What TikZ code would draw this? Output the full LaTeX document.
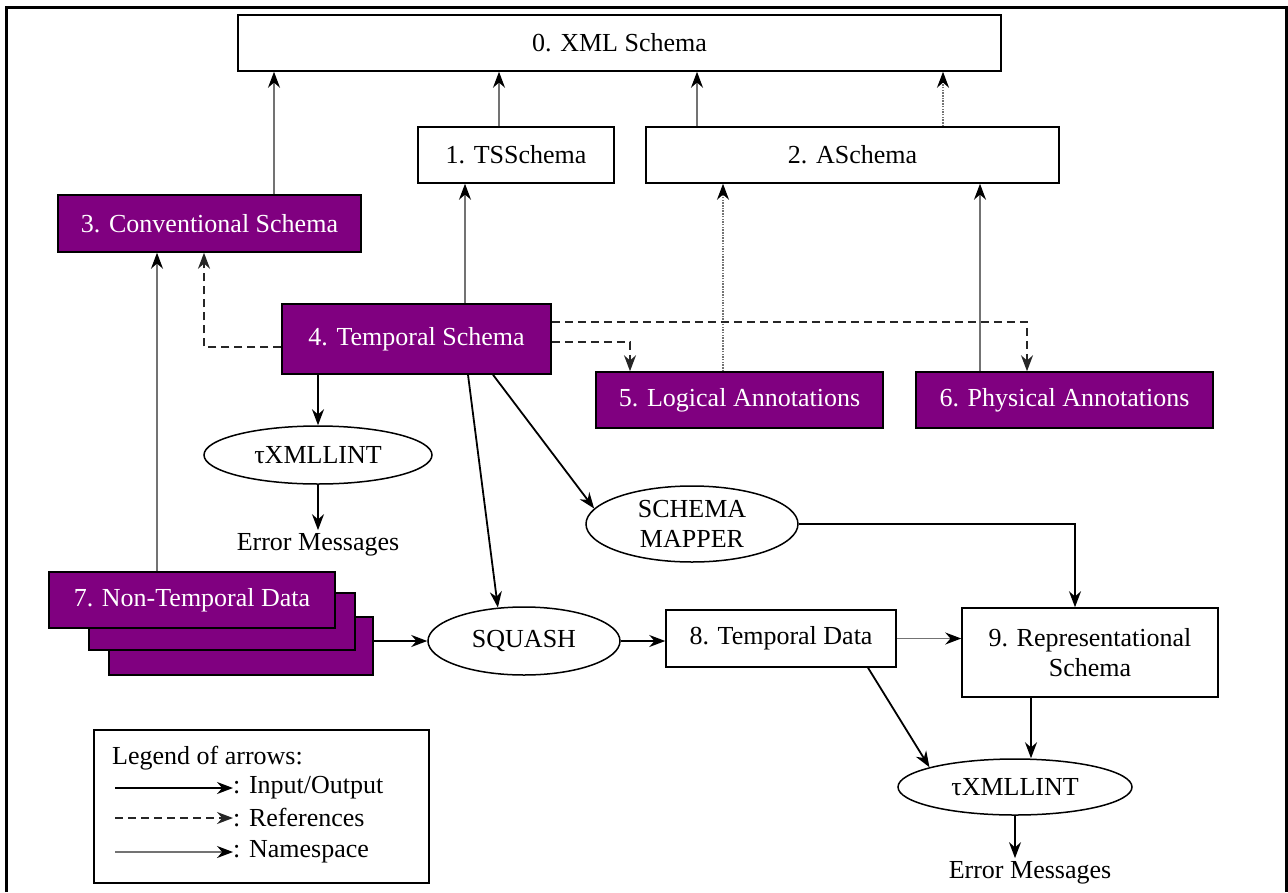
\documentclass[tikz,border=0pt]{standalone}
\usepackage{fontspec}
\setmainfont{Liberation Serif}
\usetikzlibrary{arrows.meta,shapes.geometric}
\definecolor{schemapurple}{RGB}{128,0,128}
\newcommand{\diagfont}{\fontsize{26}{30}\selectfont}

\begin{document}
\begin{tikzpicture}[x=1pt,y=-1pt,font=\diagfont,
    box/.style={draw=black,line width=1.5pt,fill=white,inner sep=0pt,align=center},
    pbox/.style={box,fill=schemapurple,text=white},
    oval/.style={draw=black,ellipse,line width=1.5pt,fill=white,inner sep=0pt,align=center},
    iolink/.style={-{Stealth[length=16pt,width=12pt]},line width=1.8pt},
    reflink/.style={iolink,dash pattern=on 8pt off 5pt,draw=black!85},
    nslink/.style={-{Stealth[length=16pt,width=12pt,black]},line width=1.3pt,draw=black!55},
    dotlink/.style={nslink,dash pattern=on 1.5pt off 1.2pt}]
    \useasboundingbox (0,0) rectangle (1288,892);
    \draw[line width=3pt] (6,892) -- (6,7) -- (1286,7) -- (1286,892);

    \node[box,minimum width=763pt,minimum height=56pt] (xml) at (619.5,43) {0. XML Schema};
    \node[box,minimum width=196pt,minimum height=56pt] (ts) at (516,155) {1. TSSchema};
    \node[box,minimum width=413pt,minimum height=56pt] (aschema) at (852.5,155) {2. ASchema};
    \node[pbox,minimum width=303pt,minimum height=57pt] (conv) at (209.5,223.5) {3. Conventional Schema};
    \node[pbox,minimum width=269pt,minimum height=70pt] (temporal) at (416.5,339) {4. Temporal Schema};
    \node[pbox,minimum width=287pt,minimum height=56pt] (logical) at (739.5,400) {5. Logical Annotations};
    \node[pbox,minimum width=297pt,minimum height=56pt] (physical) at (1064.5,400) {6. Physical Annotations};

    \foreach \nm/\cx/\cy/\w/\h in {nt3/241/646/264/58, nt2/222/621.5/266/57}
      \node[pbox,minimum width=\w pt,minimum height=\h pt] (\nm) at (\cx,\cy) {};
    \node[pbox,minimum width=286pt,minimum height=56pt] (nontemp) at (192,600) {7. Non-Temporal Data};

    \node[box,minimum width=230pt,minimum height=57pt] (tdata) at (781,638.5) {8. Temporal Data};
    \node[box,minimum width=256pt,minimum height=89pt] (repr) at (1090,652.5) {9. Representational\\Schema};

    \node[oval,minimum width=228pt,minimum height=58pt] (lint1) at (318,455) {τXMLLINT};
    \node (err1) at (318,545) {Error Messages};
    \node[oval,minimum width=212pt,minimum height=76pt] (mapper) at (692,524) {SCHEMA\\MAPPER};
    \node[oval,minimum width=192pt,minimum height=68pt] (squash) at (524,641) {SQUASH};
    \node[oval,minimum width=234pt,minimum height=56pt] (lint2) at (1015,787) {τXMLLINT};
    \node (err2) at (1030,873) {Error Messages};

    \node[box,minimum width=335pt,minimum height=153pt] (legend) at (261.5,806.5) {};
    \node[anchor=west,inner sep=0pt] (legtitle) at (112,758) {Legend of arrows:};
    \coordinate (lio) at (115,788);
    \node[anchor=west,inner sep=0pt] (lgio) at (233,788) {: Input/Output};
    \coordinate (lref) at (115,818);
    \node[anchor=west,inner sep=0pt] (lgref) at (233,818) {: References};
    \coordinate (lns) at (115,852);
    \node[anchor=west,inner sep=0pt] (lgns) at (233,852) {: Namespace};
    \draw[iolink] (lio) -- (lgio.west);
    \draw[reflink] (lref) -- (lgref.west);
    \draw[nslink] (lns) -- (lgns.west);

    \draw[nslink] ([xshift=64.5pt]conv.north) -- ([xshift=64.5pt]conv.north |- xml.south);
    \draw[nslink] ([xshift=-17pt]ts.north) -- ([xshift=-17pt]ts.north |- xml.south);
    \draw[nslink] ([xshift=-155.5pt]aschema.north) -- ([xshift=-155.5pt]aschema.north |- xml.south);
    \draw[dotlink] ([xshift=90.5pt]aschema.north) -- ([xshift=90.5pt]aschema.north |- xml.south);
    \draw[nslink] ([xshift=48.5pt]temporal.north) -- ([xshift=48.5pt]temporal.north |- ts.south);
    \draw[dotlink] ([xshift=-16.5pt]logical.north) -- ([xshift=-16.5pt]logical.north |- aschema.south);
    \draw[nslink] ([xshift=-84.5pt]physical.north) -- ([xshift=-84.5pt]physical.north |- aschema.south);
    \draw[nslink] ([xshift=-35pt]nontemp.north) -- ([xshift=-35pt]nontemp.north |- conv.south);
    \draw[nslink] (tdata.east) -- (tdata.east -| repr.west);

    \draw[reflink] ([yshift=-8pt]temporal.west) -| ([xshift=-5.5pt]conv.south);
    \draw[reflink] ([yshift=-3pt]temporal.east) -| ([xshift=-109.5pt]logical.north);
    \draw[reflink] ([yshift=17pt]temporal.east) -| ([xshift=-37.5pt]physical.north);

    \draw[iolink] (temporal.south -| lint1.north) -- (lint1.north);
    \draw[iolink] (lint1.south) -- (err1.north);
    \draw[iolink] ([xshift=51.5pt]temporal.south) -- (squash.128);
    \draw[iolink] ([xshift=76.5pt]temporal.south) -- (mapper.171);
    \draw[iolink] (nt3.east |- squash.west) -- (squash.west);
    \draw[iolink] (squash.east) -- (squash.east -| tdata.west);
    \draw[iolink] (mapper.east) -| ([xshift=-15pt]repr.north);
    \draw[iolink] ([xshift=87pt]tdata.south) -- (lint2.167);
    \draw[iolink] ([xshift=-59pt]repr.south) -- ([xshift=-59pt]repr.south |- lint2.north);
    \draw[iolink] (lint2.south) -- (lint2.south |- err2.north);
\end{tikzpicture}
\end{document}
